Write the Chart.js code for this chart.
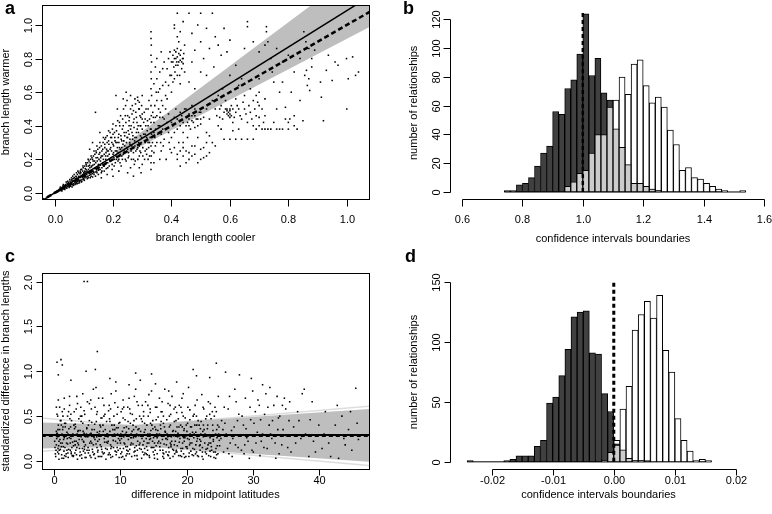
<!DOCTYPE html>
<html>
<head>
<meta charset="utf-8">
<script src="https://cdn.jsdelivr.net/npm/chart.js@4.4.1/dist/chart.umd.min.js"></script>
<style>
  html, body { margin: 0; padding: 0; width: 772px; height: 514px; overflow: hidden; background: #fff; }
  canvas { position: absolute; }
  .tag { position: absolute; font: bold 18px "Liberation Sans", Arial, sans-serif; line-height: 18px; color: #000; }
</style>
</head>
<body>
<canvas id="chartA" width="386" height="257" style="left:0;top:0;width:386px;height:257px"></canvas>
<canvas id="chartB" width="400" height="257" style="left:386px;top:0;width:400px;height:257px"></canvas>
<canvas id="chartC" width="386" height="257" style="left:0;top:257px;width:386px;height:257px"></canvas>
<canvas id="chartD" width="400" height="257" style="left:386px;top:257px;width:400px;height:257px"></canvas>
<div class="tag" style="left:5px;top:-1px">a</div>
<div class="tag" style="left:403px;top:-1px">b</div>
<div class="tag" style="left:5px;top:247px">c</div>
<div class="tag" style="left:405px;top:247px">d</div>
<script>
// ---- panel a: branch length cooler vs warmer
const aTicks = [0, 0.2, 0.4, 0.6, 0.8, 1.0];
const aTickLabels = ["0.0", "0.2", "0.4", "0.6", "0.8", "1.0"];
const aPoints = [
  [0.002,0.004],[0.006,0.003],[0.008,0.01],[0.01,0.006],[0.012,0.015],[0.014,0.011],[0.016,0.02],[0.018,0.013],[0.02,0.024],[0.021,0.017],
  [0.023,0.029],[0.025,0.021],[0.027,0.033],[0.028,0.024],[0.03,0.038],[0.031,0.027],[0.033,0.03],[0.034,0.045],[0.036,0.033],[0.038,0.05],
  [0.039,0.036],[0.041,0.044],[0.043,0.056],[0.044,0.038],[0.046,0.05],[0.048,0.062],[0.049,0.042],[0.051,0.055],[0.053,0.07],[0.054,0.046],
  [0.056,0.06],[0.058,0.078],[0.059,0.05],[0.061,0.066],[0.063,0.085],[0.064,0.055],[0.066,0.072],[0.068,0.092],[0.069,0.06],[0.071,0.078],
  [0.073,0.1],[0.074,0.064],[0.076,0.084],[0.078,0.11],[0.079,0.068],[0.081,0.09],[0.083,0.12],[0.084,0.072],[0.086,0.096],[0.088,0.13],
  [0.089,0.076],[0.091,0.104],[0.093,0.14],[0.094,0.08],[0.096,0.11],[0.098,0.15],[0.099,0.085],[0.101,0.118],[0.103,0.16],[0.104,0.09],
  [0.106,0.125],[0.108,0.17],[0.109,0.095],[0.111,0.13],[0.113,0.18],[0.114,0.1],[0.116,0.14],[0.118,0.19],[0.119,0.105],[0.121,0.15],
  [0.123,0.2],[0.124,0.11],[0.126,0.155],[0.128,0.21],[0.129,0.115],[0.131,0.165],[0.133,0.22],[0.134,0.12],[0.136,0.17],[0.138,0.23],
  [0.139,0.125],[0.141,0.18],[0.143,0.24],[0.144,0.13],[0.146,0.19],[0.148,0.26],[0.15,0.135],[0.152,0.2],[0.154,0.27],[0.156,0.14],
  [0.158,0.21],[0.16,0.28],[0.162,0.15],[0.164,0.22],[0.166,0.3],[0.168,0.16],[0.17,0.23],[0.172,0.32],[0.174,0.17],[0.176,0.24],
  [0.178,0.26],[0.18,0.34],[0.182,0.18],[0.184,0.25],[0.186,0.29],[0.188,0.2],[0.19,0.36],[0.192,0.27],[0.194,0.21],[0.196,0.3],
  [0.198,0.38],[0.2,0.23],[0.202,0.28],[0.204,0.16],[0.206,0.33],[0.208,0.25],[0.21,0.4],[0.212,0.2],[0.214,0.3],[0.216,0.43],
  [0.218,0.24],[0.22,0.35],[0.222,0.27],[0.224,0.18],[0.226,0.46],[0.228,0.32],[0.23,0.22],[0.232,0.38],[0.234,0.29],[0.236,0.5],
  [0.238,0.25],[0.24,0.34],[0.242,0.2],[0.244,0.42],[0.246,0.3],[0.248,0.55],[0.25,0.26],[0.252,0.37],[0.254,0.22],[0.256,0.45],
  [0.258,0.32],[0.26,0.15],[0.262,0.4],[0.264,0.28],[0.266,0.52],[0.268,0.34],[0.27,0.24],[0.272,0.44],[0.274,0.31],[0.276,0.19],
  [0.278,0.48],[0.28,0.36],[0.282,0.26],[0.284,0.57],[0.286,0.4],[0.288,0.3],[0.29,0.22],[0.292,0.46],[0.294,0.34],[0.296,0.12],
  [0.298,0.52],[0.3,0.38],
  [0.02,0.035],[0.025,0.012],[0.03,0.05],[0.035,0.02],[0.04,0.065],[0.042,0.028],[0.045,0.07],[0.05,0.032],[0.052,0.08],[0.055,0.04],
  [0.058,0.09],[0.06,0.035],[0.062,0.1],[0.065,0.045],[0.067,0.11],[0.07,0.05],[0.072,0.085],[0.075,0.12],[0.077,0.055],[0.08,0.13],
  [0.082,0.08],[0.085,0.06],[0.087,0.115],[0.09,0.14],[0.092,0.065],[0.095,0.095],[0.097,0.16],[0.1,0.1],[0.1,0.12],
  [0.102,0.075],[0.105,0.145],[0.107,0.18],[0.11,0.11],[0.112,0.085],[0.115,0.2],[0.117,0.12],[0.12,0.165],[0.122,0.09],[0.125,0.22],
  [0.127,0.135],[0.13,0.095],[0.132,0.19],[0.135,0.25],[0.137,0.145],[0.14,0.1],[0.142,0.21],[0.145,0.28],[0.147,0.155],[0.15,0.11],
  [0.152,0.23],[0.155,0.3],[0.157,0.165],[0.16,0.12],[0.162,0.25],[0.165,0.18],[0.167,0.33],[0.17,0.13],[0.172,0.27],[0.175,0.2],
  [0.177,0.145],[0.18,0.3],[0.182,0.22],[0.185,0.37],[0.187,0.16],[0.19,0.26],[0.192,0.19],[0.195,0.33],[0.197,0.14],[0.2,0.29],
  [0.2,0.41],[0.203,0.21],[0.205,0.36],[0.208,0.18],[0.21,0.3],[0.213,0.25],[0.215,0.5],[0.218,0.33],[0.22,0.2],[0.223,0.4],
  [0.225,0.26],[0.228,0.16],[0.23,0.31],[0.233,0.44],[0.235,0.23],[0.238,0.36],[0.24,0.28],[0.243,0.52],[0.245,0.19],[0.248,0.33],
  [0.25,0.46],[0.253,0.24],[0.255,0.4],[0.258,0.29],[0.26,0.5],[0.263,0.2],[0.265,0.36],[0.268,0.27],[0.27,0.42],[0.273,0.17],
  [0.275,0.33],[0.278,0.25],[0.28,0.45],[0.283,0.38],[0.285,0.2],[0.288,0.5],[0.29,0.28],[0.293,0.4],[0.295,0.24],[0.298,0.33],
  [0.3,0.47],[0.302,0.27],[0.305,0.42],[0.308,0.2],[0.31,0.35],[0.313,0.5],[0.315,0.26],[0.318,0.43],[0.32,0.3],[0.323,0.55],
  [0.325,0.22],[0.328,0.38],[0.335,0.3],[0.338,0.45],[0.34,0.18],[0.343,0.52],[0.345,0.28],[0.348,0.6],
  [0.015,0.018],[0.019,0.028],[0.024,0.017],[0.029,0.042],[0.032,0.024],[0.037,0.041],[0.04,0.028],[0.047,0.058],[0.05,0.038],[0.057,0.052],
  [0.06,0.075],[0.063,0.048],[0.066,0.088],[0.07,0.068],[0.073,0.055],[0.075,0.095],[0.078,0.075],[0.08,0.058],[0.083,0.1],[0.086,0.07],
  [0.088,0.092],[0.09,0.12],[0.093,0.07],[0.096,0.13],[0.098,0.1],[0.1,0.08],[0.103,0.13],[0.105,0.1],[0.108,0.14],[0.11,0.16],
  [0.112,0.12],[0.115,0.09],[0.117,0.16],[0.12,0.13],[0.122,0.18],[0.125,0.1],[0.127,0.16],[0.13,0.2],[0.132,0.13],[0.135,0.11],
  [0.137,0.19],[0.14,0.15],[0.142,0.25],[0.145,0.12],[0.147,0.21],[0.15,0.17],[0.152,0.14],[0.155,0.24],[0.157,0.19],[0.16,0.22],
  [0.162,0.13],[0.165,0.26],[0.167,0.2],[0.17,0.16],[0.172,0.29],[0.175,0.22],[0.177,0.18],[0.18,0.25],[0.182,0.15],[0.185,0.31],
  [0.187,0.23],[0.19,0.19],[0.192,0.33],[0.195,0.25],[0.197,0.17],[0.2,0.35],[0.202,0.24],[0.205,0.2],[0.207,0.31],[0.21,0.22],
  [0.212,0.37],[0.215,0.27],[0.217,0.19],[0.22,0.3],[0.222,0.42],[0.225,0.23],[0.227,0.34],[0.23,0.27],[0.232,0.2],[0.235,0.4],
  [0.237,0.31],[0.24,0.24],[0.242,0.46],[0.245,0.36],[0.247,0.27],[0.25,0.33],[0.252,0.21],[0.255,0.43],[0.257,0.3],[0.26,0.38],
  [0.262,0.25],[0.265,0.47],[0.267,0.32],[0.27,0.2],[0.272,0.39],[0.275,0.28],[0.277,0.53],[0.28,0.33],[0.282,0.42],[0.285,0.27],
  [0.287,0.36],[0.29,0.54],[0.292,0.25],[0.295,0.4],[0.297,0.3],[0.3,0.44],[0.302,0.22],[0.305,0.35],[0.307,0.48],[0.31,0.3],
  [0.312,0.4],[0.315,0.23],[0.317,0.37],[0.32,0.5],[0.322,0.27],[0.325,0.44],[0.327,0.33],[0.33,0.38],[0.333,0.25],[0.336,0.48],
  [0.34,0.42],[0.343,0.33],[0.346,0.38],[0.35,0.46],[0.353,0.35],[0.356,0.5],[0.36,0.4],[0.363,0.3],[0.366,0.55],[0.37,0.45],
  [0.14,0.48],[0.155,0.36],[0.175,0.33],[0.21,0.58],[0.235,0.56],[0.245,0.6],[0.255,0.35],[0.26,0.58],[0.27,0.49],[0.275,0.56],
  [0.285,0.55],[0.29,0.5],[0.295,0.45],[0.3,0.58],[0.12,0.26],[0.13,0.3],[0.2,0.1],[0.22,0.13],[0.25,0.12],[0.27,0.1],
  [0.29,0.15],[0.3,0.17],[0.16,0.09],[0.18,0.11],
  [0.33,0.96],[0.33,0.92],[0.331,0.88],[0.33,0.82],[0.332,0.78],[0.33,0.72],[0.331,0.68],[0.33,0.62],[0.332,0.58],[0.33,0.52],
  [0.331,0.46],[0.33,0.42],[0.332,0.35],[0.33,0.28],[0.331,0.22],[0.33,0.18],[0.33,0.14],
  [0.31,0.25],[0.31,0.44],[0.315,0.33],[0.32,0.2],[0.32,0.4],[0.325,0.3],[0.34,0.36],[0.34,0.24],[0.345,0.45],[0.35,0.68],
  [0.35,0.55],[0.35,0.3],[0.355,0.4],[0.36,0.62],[0.36,0.2],[0.362,0.48],[0.365,0.35],[0.37,0.74],[0.37,0.52],[0.372,0.28],
  [0.375,0.44],[0.38,0.66],[0.38,0.38],[0.382,0.2],[0.385,0.56],[0.39,0.8],[0.39,0.47],[0.392,0.3],[0.395,0.7],[0.4,0.42],
  [0.4,0.6],[0.4,0.24],
  [0.36,0.45],[0.365,0.25],[0.37,0.38],[0.375,0.32],[0.38,0.5],[0.385,0.42],[0.39,0.36],[0.395,0.26],[0.4,0.33],[0.405,0.4],
  [0.41,0.36],[0.415,0.5],[0.42,0.44],[0.425,0.3],[0.43,0.4],[0.435,0.46],[0.44,0.36],[0.445,0.5],[0.45,0.4],[0.455,0.42],
  [0.46,0.44],[0.465,0.38],[0.47,0.46],[0.475,0.42],[0.48,0.5],[0.485,0.44],[0.49,0.4],[0.495,0.48],[0.5,0.44],[0.43,0.25],
  [0.45,0.18],[0.47,0.22],[0.48,0.28],[0.5,0.2],[0.51,0.27],[0.44,0.27],[0.46,0.24],[0.42,0.23],[0.52,0.22],[0.54,0.3],
  [0.4,0.78],[0.405,0.82],[0.408,0.75],[0.41,0.8],[0.412,0.72],[0.415,0.84],[0.418,0.78],[0.42,0.81],[0.422,0.76],[0.425,0.83],
  [0.428,0.7],[0.43,0.79],[0.432,0.85],[0.435,0.74],[0.438,0.8],[0.44,0.77],[0.442,0.83],[0.445,0.72],[0.41,0.68],[0.43,0.65],
  [0.34,0.65],[0.345,0.75],[0.35,0.8],[0.355,0.6],[0.36,0.72],[0.365,0.84],[0.37,0.64],[0.375,0.78],[0.38,0.58],[0.385,0.74],
  [0.39,0.64],[0.395,0.84],[0.4,0.7],[0.405,0.66],[0.41,0.85],[0.415,0.76],[0.42,0.7],[0.425,0.78],[0.43,0.82],[0.44,0.8],
  [0.415,0.8],[0.42,0.86],[0.405,0.78],[0.435,0.78],
  [0.41,0.98],[0.41,1.0],[0.42,0.93],[0.42,1.07],[0.425,0.9],[0.43,0.96],[0.44,1.02],[0.445,0.88],[0.46,1.07],[0.47,0.95],
  [0.48,0.85],[0.49,1.0],[0.5,1.07],[0.5,0.9],[0.51,0.8],[0.52,0.98],[0.53,0.86],[0.54,1.07],[0.545,0.75],[0.55,0.93],
  [0.56,0.88],[0.57,0.82],[0.58,0.98],[0.59,0.84],[0.6,0.91],[0.5,0.72],[0.52,0.7],[0.46,0.66],[0.48,0.62],[0.47,0.78],
  [0.41,0.45],[0.42,0.38],[0.43,0.48],[0.44,0.42],[0.45,0.45],[0.45,0.5],[0.46,0.4],[0.46,0.47],[0.47,0.43],[0.47,0.52],
  [0.48,0.46],[0.48,0.39],[0.49,0.44],[0.5,0.48],[0.5,0.41],[0.51,0.45],[0.52,0.5],[0.52,0.36],[0.53,0.44],[0.54,0.55],
  [0.44,0.3],[0.45,0.25],[0.46,0.2],[0.47,0.28],[0.48,0.23],[0.49,0.18],[0.5,0.26],[0.51,0.21],[0.52,0.3],[0.53,0.24],
  [0.42,0.2],[0.43,0.16],[0.44,0.22],[0.41,0.27],[0.455,0.33],[0.49,0.33],[0.53,0.34],[0.55,0.28],[0.56,0.4],
  [0.55,0.5],[0.56,0.58],[0.565,0.45],[0.57,0.52],[0.575,0.62],[0.58,0.48],[0.585,0.55],[0.59,0.47],[0.59,0.5],[0.595,0.46],
  [0.6,0.49],[0.6,0.45],[0.6,0.6],[0.605,0.52],[0.61,0.42],[0.62,0.56],[0.62,0.48],[0.63,0.5],[0.63,0.64],[0.64,0.44],
  [0.65,0.58],[0.65,0.5],[0.66,0.42],[0.67,0.62],[0.67,0.48],[0.68,0.55],[0.69,0.46],[0.7,0.52],[0.7,0.6],[0.68,0.4],
  [0.555,0.46],[0.565,0.5],[0.575,0.44],[0.585,0.5],[0.59,0.49],[0.595,0.48],[0.6,0.47],[0.6,0.5],[0.605,0.46],[0.61,0.5],
  [0.615,0.45],[0.625,0.52],[0.635,0.46],[0.645,0.54],[0.655,0.47],[0.665,0.52],[0.675,0.44],[0.685,0.5],[0.695,0.54],[0.7,0.45],
  [0.71,0.5],[0.715,0.42],[0.69,0.38],[0.7,0.4],[0.71,0.38],[0.72,0.38],[0.74,0.38],[0.76,0.38],[0.78,0.38],[0.8,0.42],[0.82,0.4],
  [0.69,0.58],[0.58,0.32],[0.6,0.32],[0.62,0.32],[0.64,0.32],[0.66,0.32],[0.68,0.32],[0.57,0.38],[0.61,0.37],[0.63,0.38],
  [0.6,0.7],[0.62,0.76],[0.64,0.68],[0.66,1.02],[0.66,0.99],[0.65,0.86],[0.68,0.9],[0.7,0.84],[0.7,0.68],
  [0.72,0.88],[0.725,0.99],[0.725,0.96],[0.73,0.9],[0.74,0.8],[0.745,0.72],[0.72,0.46],[0.72,0.56],[0.73,0.38],[0.75,0.42],
  [0.76,0.5],[0.77,0.38],[0.78,0.66],[0.79,0.51],[0.8,0.38],[0.805,0.44],[0.81,0.6],[0.82,0.46],[0.83,0.38],[0.84,0.55],
  [0.85,0.43],[0.856,0.7],[0.862,0.73],[0.865,0.64],[0.87,0.68],[0.873,0.61],[0.88,0.75],[0.88,0.8],[0.853,0.96],[0.86,0.9],
  [0.87,0.86],[0.89,0.85],[0.76,0.86],[0.78,0.78],[0.8,0.82],[0.82,0.72],[0.84,0.8],[0.75,0.66],[0.77,0.6],[0.79,0.44],
  [0.913,0.57],[0.93,0.73],[0.937,0.82],[0.95,0.67],[0.96,0.78],[0.97,0.76],[0.999,0.8],[1.0,0.5],[1.005,0.68],[1.02,0.81],
  [1.03,0.7],[1.04,0.72],[0.92,0.43],[0.91,0.66]
];
const aBandUpper = [[0.21, 0.25], [1.08, 1.38]];
const aBandLower = [[0.21, 0.2], [1.08, 0.99]];
const aFitLine = [[-0.05, -0.054], [1.1, 1.194]];
const aEqualLine = [[-0.05, -0.05], [1.1, 1.1]];

// ---- panel b: confidence interval boundaries (bins of 0.02 from 0.74)
const bStart = 0.74, bWidth = 0.02;
const bLower = [1,1,5,6,10,18,27,32,56,54,72,78,96,124,81,93,69,64,30,15,8,4,3,2,2,1,0,0,0,0,0,0,0,0,0,0,0,0,0,0];
const bMiddle = [0,0,0,0,0,0,0,0,0,0,4,7,13,15,27,40,40,59,44,31,19,6,6,4,2,1,0,0,0,0,0,0,0,0,0,0,0,0,0,0];
const bUpper = [0,0,0,0,0,0,0,0,0,0,0,0,0,3,10,25,45,62,64,80,68,89,92,74,62,66,59,43,33,15,17,10,9,6,4,2,1,0,0,1];
const bXTicks = [0.6, 0.8, 1.0, 1.2, 1.4, 1.6];
const bXLabels = ["0.6", "0.8", "1.0", "1.2", "1.4", "1.6"];
const bYTicks = [0, 20, 40, 60, 80, 100, 120];
const bMarker = [[1.0, 0], [1.0, 125]];

// ---- panel c: latitude difference vs standardized difference
const cXTicks = [0, 10, 20, 30, 40];
const cXLabels = ["0", "10", "20", "30", "40"];
const cYTicks = [0, 0.5, 1.0, 1.5, 2.0];
const cYLabels = ["0.0", "0.5", "1.0", "1.5", "2.0"];
const cPoints = [
  [0.2,0.05],[0.3,0.18],[0.3,0.33],[0.4,0.52],[0.5,0.1],[0.5,0.27],[0.6,0.4],[0.6,0.68],[0.7,0.02],[0.7,0.22],
  [0.8,0.35],[0.8,0.6],[0.9,0.13],[1.0,0.29],[1.0,0.45],[1.1,0.07],[1.2,0.2],[1.2,0.55],[1.3,0.38],[1.4,0.03],
  [1.5,0.26],[1.5,0.7],[1.6,0.15],[1.7,0.42],[1.8,0.08],[1.9,0.32],[2.0,0.5],[2.0,0.19],[2.1,0.04],[2.2,0.36],
  [2.3,0.62],[2.4,0.12],[2.5,0.25],[2.6,0.45],[2.7,0.06],[2.8,0.3],[2.9,0.17],[3.0,0.55],[3.1,0.09],[3.2,0.38],
  [3.3,0.22],[3.4,0.72],[3.5,0.02],[3.6,0.28],[3.7,0.47],[3.8,0.14],[3.9,0.34],[4.0,0.6],[4.1,0.07],[4.2,0.24],
  [4.3,0.42],[4.4,0.11],[4.5,0.31],[4.6,0.52],[4.7,0.18],[4.8,0.04],[4.9,0.37],[5.0,0.66],
  [5.1,0.15],[5.2,0.28],[5.3,0.45],[5.4,0.06],[5.5,0.22],[5.6,0.58],[5.7,0.35],[5.8,0.1],[5.9,0.8],[6.0,0.26],
  [6.1,0.41],[6.2,0.03],[6.3,0.19],[6.4,0.52],[6.5,0.32],[6.6,0.12],[6.7,0.7],[6.8,0.24],[6.9,0.05],[7.0,0.38],
  [7.1,0.16],[7.2,0.48],[7.3,0.29],[7.4,0.08],[7.5,0.62],[7.6,0.21],[7.7,0.35],[7.8,0.02],[7.9,0.44],[8.0,0.13],
  [8.1,0.27],[8.2,0.56],[8.3,0.09],[8.4,0.33],[8.5,0.18],[8.6,0.75],[8.7,0.4],[8.8,0.05],[8.9,0.23],[9.0,0.5],
  [9.1,0.3],[9.2,0.11],[9.3,0.88],[9.4,0.37],[9.5,0.15],[9.6,0.6],[9.7,0.25],[9.8,0.04],[9.9,0.43],
  [10.0,0.2],[10.1,0.55],[10.2,0.1],[10.3,0.33],[10.4,0.68],[10.5,0.27],[10.6,0.02],[10.7,0.46],[10.8,0.16],[10.9,0.38],
  [11.0,0.08],[11.1,0.6],[11.2,0.24],[11.3,0.85],[11.4,0.13],[11.5,0.42],[11.6,0.3],[11.7,0.05],[11.8,0.52],[11.9,0.19],
  [12.0,0.35],[12.1,0.72],[12.2,0.11],[12.3,0.27],[12.4,0.47],[12.5,0.06],[12.6,0.22],[12.7,0.62],[12.8,0.36],[12.9,0.14],
  [13.0,0.9],[13.1,0.29],[13.2,0.03],[13.3,0.44],[13.4,0.18],[13.5,0.55],[13.6,0.32],[13.7,0.09],[13.8,0.66],[13.9,0.25],
  [14.0,0.4],[14.1,0.12],[14.2,0.5],[14.3,0.2],[14.4,0.04],[14.5,0.58],[14.6,0.34],[14.7,0.78],[14.8,0.15],[14.9,0.45],
  [15.0,0.26],[15.1,0.07],[15.2,0.38],[15.3,0.6],[15.4,0.17],[15.5,0.3],[15.6,0.02],[15.7,0.49],[15.8,0.22],[15.9,0.7],
  [16.0,0.12],[16.1,0.36],[16.2,0.28],[16.3,0.55],[16.4,0.05],[16.5,0.42],[16.6,0.19],[16.7,0.8],[16.8,0.32],[16.9,0.1],
  [17.0,0.46],[17.1,0.24],[17.2,0.64],[17.3,0.15],[17.4,0.38],[17.5,0.03],[17.6,0.52],[17.7,0.27],[17.8,0.72],[17.9,0.13],
  [18.0,0.34],[18.1,0.58],[18.2,0.08],[18.3,0.22],[18.4,0.45],[18.5,0.88],[18.6,0.17],[18.7,0.31],[18.8,0.06],[18.9,0.62],
  [19.0,0.25],[19.1,0.4],[19.2,0.11],[19.3,0.54],[19.4,0.2],[19.5,0.75],[19.6,0.34],[19.7,0.04],[19.8,0.48],[19.9,0.16],
  [20.0,0.28],[20.2,0.6],[20.4,0.09],[20.6,0.38],[20.8,0.2],[21.0,1.02],[21.0,0.5],[21.2,0.13],[21.4,0.32],[21.6,0.68],
  [21.8,0.05],[22.0,0.24],[22.2,0.44],[22.4,0.15],[22.6,0.58],[22.8,0.3],[23.0,0.08],[23.2,0.4],[23.4,0.2],[23.5,0.93],
  [23.6,0.64],[23.8,0.12],[24.0,0.34],[24.2,0.5],[24.4,0.03],[24.5,1.09],[24.6,0.26],[24.8,0.72],[25.0,0.17],
  [20.1,0.14],[20.5,0.46],[21.1,0.26],[21.5,0.1],[22.1,0.36],[22.5,0.02],[23.1,0.28],[23.7,0.47],[24.1,0.1],[24.7,0.4],
  [0.15,0.08],[0.4,0.31],[0.65,0.17],[0.9,0.45],[1.15,0.03],[1.4,0.24],[1.65,0.38],[1.9,0.12],[2.15,0.55],[2.4,0.2],
  [2.65,0.28],[2.9,0.06],[3.15,0.41],[3.4,0.15],[3.65,0.34],[3.9,0.1],[4.15,0.5],[4.4,0.22],[4.65,0.04],[4.9,0.36],
  [5.15,0.09],[5.4,0.3],[5.65,0.43],[5.9,0.18],[6.15,0.6],[6.4,0.27],[6.65,0.05],[6.9,0.4],[7.15,0.13],[7.4,0.33],
  [7.65,0.52],[7.9,0.21],[8.15,0.07],[8.4,0.44],[8.65,0.16],[8.9,0.29],[9.15,0.65],[9.4,0.1],[9.65,0.37],[9.9,0.23],
  [10.15,0.04],[10.4,0.48],[10.65,0.19],[10.9,0.32],[11.15,0.11],[11.4,0.58],[11.65,0.26],[11.9,0.4],[12.15,0.06],[12.4,0.17],
  [12.65,0.35],[12.9,0.5],[13.15,0.13],[13.4,0.28],[13.65,0.42],[13.9,0.08],[14.15,0.62],[14.4,0.24],[14.65,0.15],[14.9,0.36],
  [15.15,0.03],[15.4,0.46],[15.65,0.2],[15.9,0.3],[16.15,0.55],[16.4,0.12],[16.65,0.38],[16.9,0.25],[17.15,0.07],[17.4,0.5],
  [17.65,0.16],[17.9,0.33],[18.15,0.44],[18.4,0.1],[18.65,0.27],[18.9,0.21],[19.15,0.6],[19.4,0.14],[19.65,0.36],[19.9,0.05],
  [20.15,0.42],[20.4,0.24],[20.65,0.11],[20.9,0.32],[21.15,0.52],[21.4,0.18],[21.65,0.06],[21.9,0.4],[22.15,0.22],[22.4,0.1],
  [22.65,0.35],[22.9,0.47],[23.15,0.14],[23.4,0.28],[23.65,0.2],[23.9,0.55],[24.15,0.04],[24.4,0.3],[24.65,0.17],[24.9,0.38],
  [0.05,0.22],[0.55,0.14],[1.05,0.4],[1.55,0.06],[2.05,0.3],[2.55,0.1],[3.05,0.36],[3.55,0.2],[4.05,0.44],[4.55,0.13],
  [5.05,0.27],[5.55,0.04],[6.05,0.35],[6.55,0.22],[7.05,0.48],[7.55,0.09],[8.05,0.3],[8.55,0.14],[9.05,0.4],[9.55,0.2],
  [10.05,0.08],[10.55,0.37],[11.05,0.16],[11.55,0.26],[12.05,0.45],[12.55,0.12],[13.05,0.33],[13.55,0.07],[14.05,0.2],[14.55,0.42],
  [15.05,0.15],[15.55,0.26],[16.05,0.4],[16.55,0.08],[17.05,0.3],[17.55,0.2],[18.05,0.12],[18.55,0.38],[19.05,0.06],[19.55,0.26],
  [20.05,0.16],[20.55,0.3],[21.05,0.06],[21.55,0.4],[22.05,0.18],[22.55,0.27],[23.05,0.5],[23.55,0.11],[24.05,0.24],[24.55,0.07],
  [0.1,0.15],[0.35,0.25],[0.55,0.35],[0.75,0.12],[0.95,0.2],[1.15,0.3],[1.35,0.16],[1.55,0.42],[1.75,0.05],[1.95,0.25],
  [2.15,0.13],[2.35,0.47],[2.55,0.08],[2.75,0.21],[2.95,0.4],[3.15,0.18],[3.35,0.07],[3.55,0.33],[3.75,0.24],[3.95,0.5],
  [4.15,0.03],[4.35,0.33],[4.55,0.16],[4.75,0.27],[4.95,0.12],[5.15,0.4],[5.35,0.2],[5.55,0.31],[5.75,0.13],[5.95,0.07],
  [6.15,0.24],[6.35,0.44],[6.55,0.1],[6.75,0.3],[6.95,0.18],[7.15,0.05],[7.35,0.4],[7.55,0.25],[7.75,0.14],[7.95,0.3],
  [8.15,0.22],[8.35,0.47],[8.55,0.04],[8.75,0.28],[8.95,0.15],[9.15,0.35],[9.35,0.07],[9.55,0.3],[9.75,0.42],[9.95,0.14],
  [10.15,0.25],[10.35,0.05],[10.55,0.2],[10.75,0.3],[10.95,0.12],[11.15,0.44],[11.35,0.08],[11.55,0.18],[11.75,0.33],[11.95,0.26],
  [12.15,0.15],[12.35,0.38],[12.55,0.02],[12.75,0.28],[12.95,0.2],[13.15,0.47],[13.35,0.1],[13.55,0.22],[13.75,0.35],[13.95,0.16],
  [14.15,0.3],[14.35,0.06],[14.55,0.25],[14.75,0.4],[14.95,0.1],[15.15,0.2],[15.35,0.35],[15.55,0.08],[15.75,0.28],[15.95,0.16],
  [16.15,0.44],[16.35,0.24],[16.55,0.03],[16.75,0.33],[16.95,0.18],[17.15,0.27],[17.35,0.1],[17.55,0.4],[17.75,0.22],[17.95,0.05],
  [18.15,0.18],[18.35,0.33],[18.55,0.1],[18.75,0.47],[18.95,0.28],[19.15,0.14],[19.35,0.38],[19.55,0.08],[19.75,0.26],[19.95,0.4],
  [20.15,0.25],[20.35,0.05],[20.55,0.2],[20.75,0.38],[20.95,0.14],[21.15,0.3],[21.35,0.08],[21.55,0.22],[21.75,0.45],[21.95,0.17],
  [22.15,0.3],[22.35,0.05],[22.55,0.4],[22.75,0.2],[22.95,0.13],[23.15,0.36],[23.35,0.06],[23.55,0.26],[23.75,0.16],[23.95,0.4],
  [24.15,0.28],[24.35,0.1],[24.55,0.35],[24.75,0.08],[24.95,0.23],
  [0.5,0.5],[1.5,0.58],[2.5,0.52],[3.5,0.64],[4.5,0.56],[5.5,0.68],[6.5,0.55],[7.5,0.5],[8.5,0.58],[9.5,0.52],
  [10.5,0.6],[11.5,0.53],[12.5,0.66],[13.5,0.5],[14.5,0.54],[15.5,0.6],[16.5,0.5],[17.5,0.62],[18.5,0.54],[19.5,0.5],
  [20.5,0.57],[21.5,0.5],[22.5,0.6],[23.5,0.52],[24.5,0.55],
  [0.3,0.6],[1.3,0.5],[2.3,0.72],[3.3,0.58],[4.3,0.75],[5.3,0.64],[6.3,0.82],[7.3,0.7],[8.3,0.62],[9.3,0.78],
  [10.3,0.58],[11.3,0.7],[12.3,0.8],[13.3,0.62],[14.3,0.74],[15.3,0.86],[16.3,0.66],[17.3,0.78],[18.3,0.6],[19.3,0.7],
  [20.3,0.82],[21.3,0.62],[22.3,0.74],[23.3,0.66],[24.3,0.6],
  [0.25,0.12],[0.45,0.3],[0.65,0.08],[0.85,0.24],[1.05,0.16],[1.25,0.35],[1.45,0.11],[1.65,0.28],[1.85,0.2],[2.05,0.09],
  [2.25,0.26],[2.45,0.38],[2.65,0.15],[2.85,0.05],[3.05,0.22],[3.25,0.12],[3.45,0.3],[3.65,0.18],[3.85,0.06],[4.05,0.27],
  [4.25,0.14],[4.45,0.21],[4.65,0.09],[4.85,0.3],[5.25,0.12],[5.65,0.2],[6.05,0.08],[6.45,0.15],[6.85,0.33],[7.25,0.1],
  [7.65,0.28],[8.05,0.2],[8.45,0.07],[8.85,0.35],[9.25,0.22],[9.65,0.12],[10.05,0.3],[10.45,0.14],[10.85,0.06],[11.25,0.36],
  [11.65,0.2],[12.05,0.1],[12.45,0.3],[12.85,0.18],[13.25,0.25],[13.65,0.14],[14.05,0.07],[14.45,0.3],[14.85,0.22],[15.25,0.12],
  [15.65,0.34],[16.05,0.2],[16.45,0.09],[16.85,0.25],[17.25,0.06],[17.65,0.18],[18.05,0.28],[18.45,0.12],[18.85,0.38],[19.25,0.05],
  [19.65,0.22],[20.05,0.33],[20.45,0.18],[20.85,0.07],[21.25,0.4],[21.65,0.25],[22.05,0.12],[22.45,0.33],[22.85,0.1],[23.25,0.18],
  [23.65,0.05],[24.05,0.22],[24.45,0.14],[24.85,0.3],
  [25.3,0.45],[25.6,0.1],[25.9,0.99],[26.0,0.3],[26.3,0.58],[26.6,0.2],[26.9,0.05],[27.2,0.38],[27.5,0.66],[27.8,0.15],
  [28.0,0.96],[28.1,0.28],[28.4,0.5],[28.7,0.08],[29.0,0.36],[29.3,0.22],[29.6,0.6],[29.8,0.92],[29.9,0.12],[25.5,0.35],
  [26.2,0.14],[27.0,0.25],[27.7,0.45],[28.8,0.18],[29.5,0.03],
  [25.2,0.25],[25.8,0.42],[26.4,0.08],[26.8,0.34],[27.4,0.18],[27.9,0.52],[28.3,0.12],[28.6,0.4],[29.1,0.26],[29.7,0.46],
  [30.1,0.1],[30.7,0.32],[31.2,0.46],[31.7,0.15],[32.3,0.6],[32.7,0.3],[33.4,0.2],[33.9,0.48],[34.6,0.35],[35.3,0.15],
  [25.7,0.6],[26.5,0.72],[27.3,0.8],[28.9,0.7],[30.0,0.78],[31.0,0.62],[32.6,0.82],[33.7,0.72],[34.5,0.62],[35.6,0.66],
  [30.2,0.42],[30.5,0.2],[30.8,0.68],[31.1,0.06],[31.5,0.85],[31.5,0.3],[31.8,0.52],[32.2,0.14],[32.5,0.4],[32.9,0.25],
  [33.2,0.62],[33.5,0.03],[33.8,0.35],[34.1,0.5],[34.4,0.18],[34.8,0.7],[35.1,0.28],[35.5,0.45],[35.8,0.1],[30.4,0.55],
  [31.3,0.22],[32.0,0.75],[33.0,0.45],[34.0,0.08],[35.0,0.58],
  [36.5,0.2],[37.0,0.45],[37.5,0.75],[37.8,0.8],[38.0,0.3],[38.5,0.05],[39.0,0.66],[39.2,0.22],[40.0,0.4],[40.5,0.14],
  [41.0,0.55],[42.0,0.28],[42.5,0.4],[43.0,0.03],[43.5,0.5],[44.0,0.18],[44.5,0.35],[45.0,0.12],[45.6,0.81],[45.8,0.42],
  [46.0,0.24],[36.8,0.55],[39.5,0.1],[41.5,0.2],[36.2,0.38],[37.3,0.25],[38.7,0.46],[40.8,0.3],[42.8,0.62],[44.8,0.55],
  [43.8,0.25],[41.8,0.05],
  [4.5,2.0],[5.0,2.0],[6.5,1.22],[0.4,1.1],[1.0,1.13],[1.2,1.07],[0.6,0.96],[4.8,1.0],[6.2,1.02],[12.3,0.98],
  [14.7,0.97],[21.5,0.95],[2.5,0.9],[8.4,0.92]
];
const cBandUpper = [[-1.9, 0.43], [12, 0.4], [47.7, 0.58]];
const cBandLower = [[-1.9, 0.14], [12, 0.17], [47.7, -0.01]];
const cOuterUpper = [[-1.9, 0.48], [12, 0.39], [47.7, 0.61]];
const cOuterLower = [[-1.9, 0.11], [12, 0.18], [47.7, -0.05]];
const cMeanLine = [[-1.9, 0.29], [47.7, 0.29]];
const cFitLine = [[-1.9, 0.277], [47.7, 0.277]];

// ---- panel d: confidence interval boundaries (bins of 0.001 from -0.024)
const dStart = -0.024, dWidth = 0.001;
const dLower = [1,0,0,0,0,0,1,2,5,5,5,13,18,49,54,72,94,121,125,126,91,90,57,42,15,2,3,1,1,1,0,0,0,0,0,0,0,0,0,0];
const dMiddle = [0,0,0,0,0,0,0,0,0,0,0,0,0,0,0,0,0,0,0,0,0,0,1,8,14,10,3,1,1,0,0,0,0,0,0,0,0,0,0,0];
const dUpper = [0,0,0,0,0,0,0,0,0,0,0,0,0,0,0,0,0,0,0,0,1,1,2,5,18,44,63,110,123,134,120,139,93,75,36,18,9,1,2,1];
const dXTicks = [-0.02, -0.01, 0, 0.01, 0.02];
const dXLabels = ["-0.02", "-0.01", "0.00", "0.01", "0.02"];
const dYTicks = [0, 50, 100, 150];
const dMarker = [[0, 0], [0, 150]];

const FONT = '"Liberation Sans", Arial, Helvetica, sans-serif';

function el(id) {
  return document.getElementById(id);
}

function xy(list) {
  return list.map(p => ({ x: p[0], y: p[1] }));
}

function bins(start, width, counts) {
  return counts.map((c, i) => ({ x: start + (i + 0.5) * width, y: c }));
}

// R style axes: detached tick marks, rotated y labels, optional box
const rAxes = {
  id: "rAxes",
  afterDraw(chart, args, o) {
    const ctx = chart.ctx, ca = chart.chartArea;
    const xs = chart.scales.x, ys = chart.scales.y;
    const crisp = v => Math.round(v) + 0.5;
    ctx.save();
    ctx.strokeStyle = "#000";
    ctx.fillStyle = "#000";
    ctx.lineWidth = 1;
    ctx.font = "11px " + FONT;
    if (o.box) {
      ctx.strokeRect(crisp(ca.left), crisp(ca.top), Math.round(ca.right) - Math.round(ca.left), Math.round(ca.bottom) - Math.round(ca.top));
    }
    // x axis
    const ax = crisp(ca.bottom);
    const xpx = o.xTicks.map(v => crisp(xs.getPixelForValue(v)));
    ctx.beginPath();
    ctx.moveTo(xpx[0], ax);
    ctx.lineTo(xpx[xpx.length - 1], ax);
    xpx.forEach(px => { ctx.moveTo(px, ax); ctx.lineTo(px, ax + o.tick); });
    ctx.stroke();
    ctx.textAlign = "center";
    ctx.textBaseline = "middle";
    xpx.forEach((px, i) => ctx.fillText(o.xLabels[i], px, ax + o.xLabelGap));
    ctx.fillText(o.xTitle, (ca.left + ca.right) / 2, ax + o.xTitleGap);
    // y axis
    const ay = crisp(ca.left);
    const ypx = o.yTicks.map(v => crisp(ys.getPixelForValue(v)));
    ctx.beginPath();
    ctx.moveTo(ay, ypx[0]);
    ctx.lineTo(ay, ypx[ypx.length - 1]);
    ypx.forEach(py => { ctx.moveTo(ay, py); ctx.lineTo(ay - o.tick, py); });
    ctx.stroke();
    ypx.forEach((py, i) => {
      ctx.save();
      ctx.translate(ay - 14, py);
      ctx.rotate(-Math.PI / 2);
      ctx.fillText(o.yLabels[i], 0, 0);
      ctx.restore();
    });
    ctx.save();
    ctx.translate(ay - 37, (ca.top + ca.bottom) / 2);
    ctx.rotate(-Math.PI / 2);
    ctx.fillText(o.yTitle, 0, 0);
    ctx.restore();
    ctx.restore();
  }
};

function options(padding, xr, yr, axes) {
  return {
    responsive: false,
    animation: false,
    events: [],
    layout: { padding: padding },
    plugins: { legend: { display: false }, tooltip: { enabled: false }, rAxes: axes },
    scales: {
      x: { type: "linear", min: xr[0], max: xr[1], display: false, offset: false },
      y: { type: "linear", min: yr[0], max: yr[1], display: false }
    }
  };
}

function lineSet(data, width, dash, order, color) {
  return {
    type: "line", data: xy(data), borderColor: color || "#000", borderWidth: width,
    borderDash: dash || [], pointRadius: 0, tension: 0, fill: false, order: order
  };
}

function bandSet(data, order, fillTo, color) {
  return {
    type: "line", data: xy(data), borderColor: "rgba(0,0,0,0)", borderWidth: 0,
    pointRadius: 0, tension: 0, fill: fillTo, backgroundColor: color, order: order
  };
}

function barSet(data, color, order) {
  return {
    type: "bar", data: data, backgroundColor: color, borderColor: "#000", borderWidth: 1,
    borderSkipped: false, barPercentage: 1, categoryPercentage: 1, grouped: false, order: order
  };
}

function dotSet(data, order) {
  return {
    type: "scatter", data: xy(data), pointStyle: "rect", pointRadius: 1.1,
    pointBackgroundColor: "#000", pointBorderWidth: 0, order: order
  };
}

// panel a
new Chart(el("chartA"), {
  type: "scatter",
  data: {
    datasets: [
      bandSet(aBandUpper, 4, false),
      bandSet(aBandLower, 3, "-1", "#bebebe"),
      dotSet(aPoints, 2),
      lineSet(aFitLine, 1.5, null, 1),
      lineSet(aEqualLine, 2.5, [5, 3], 0)
    ]
  },
  options: options({ left: 42, right: 17, top: 5, bottom: 58 }, [-0.043, 1.076], [-0.036, 1.119], {
    box: true, tick: 7, xTicks: aTicks, xLabels: aTickLabels, xLabelGap: 20, xTitleGap: 38,
    xTitle: "branch length cooler", yTicks: aTicks, yLabels: aTickLabels, yTitle: "branch length warmer"
  }),
  plugins: [rAxes]
});

// panel b
new Chart(el("chartB"), {
  type: "bar",
  data: {
    datasets: [
      lineSet(bMarker, 2.5, [4, 3], 0),
      barSet(bins(bStart, bWidth, bMiddle), "#cccccc", 1),
      barSet(bins(bStart, bWidth, bLower), "#404040", 2),
      barSet(bins(bStart, bWidth, bUpper), "#ffffff", 3),
      lineSet([[bStart, 0], [bStart + bWidth * bLower.length, 0]], 1, null, 4)
    ]
  },
  options: options({ left: 64, right: 10, top: 6.6, bottom: 57.9 }, [0.56, 1.64], [-4.96, 128.96], {
    box: false, tick: 7, xTicks: bXTicks, xLabels: bXLabels, xLabelGap: 20, xTitleGap: 39,
    xTitle: "confidence intervals boundaries", yTicks: bYTicks, yLabels: bYTicks.map(String),
    yTitle: "number of relationships"
  }),
  plugins: [rAxes]
});

// panel c
new Chart(el("chartC"), {
  type: "scatter",
  data: {
    datasets: [
      lineSet(cOuterUpper, 1.5, null, 6, "#dddddd"),
      lineSet(cOuterLower, 1.5, null, 5, "#dddddd"),
      bandSet(cBandUpper, 4, false),
      bandSet(cBandLower, 3, "-1", "#bebebe"),
      dotSet(cPoints, 2),
      lineSet(cMeanLine, 2, null, 1),
      lineSet(cFitLine, 1.5, [4, 3], 0)
    ]
  },
  options: options({ left: 42, right: 17, top: 16, bottom: 45 }, [-1.87, 47.6], [-0.089, 2.095], {
    box: true, tick: 6, xTicks: cXTicks, xLabels: cXLabels, xLabelGap: 11, xTitleGap: 25,
    xTitle: "difference in midpoint latitudes", yTicks: cYTicks, yLabels: cYLabels,
    yTitle: "standardized difference in branch lengths"
  }),
  plugins: [rAxes]
});

// panel d
new Chart(el("chartD"), {
  type: "bar",
  data: {
    datasets: [
      lineSet(dMarker, 3, [4, 3], 0),
      barSet(bins(dStart, dWidth, dMiddle), "#cccccc", 1),
      barSet(bins(dStart, dWidth, dLower), "#404040", 2),
      barSet(bins(dStart, dWidth, dUpper), "#ffffff", 3),
      lineSet([[dStart, 0], [dStart + dWidth * dLower.length, 0]], 1, null, 4)
    ]
  },
  options: options({ left: 64, right: 39, top: 18, bottom: 45 }, [-0.0268, 0.0218], [-6, 156], {
    box: false, tick: 6, xTicks: dXTicks, xLabels: dXLabels, xLabelGap: 11, xTitleGap: 25,
    xTitle: "confidence intervals boundaries", yTicks: dYTicks, yLabels: dYTicks.map(String),
    yTitle: "number of relationships"
  }),
  plugins: [rAxes]
});
</script>
</body>
</html>
